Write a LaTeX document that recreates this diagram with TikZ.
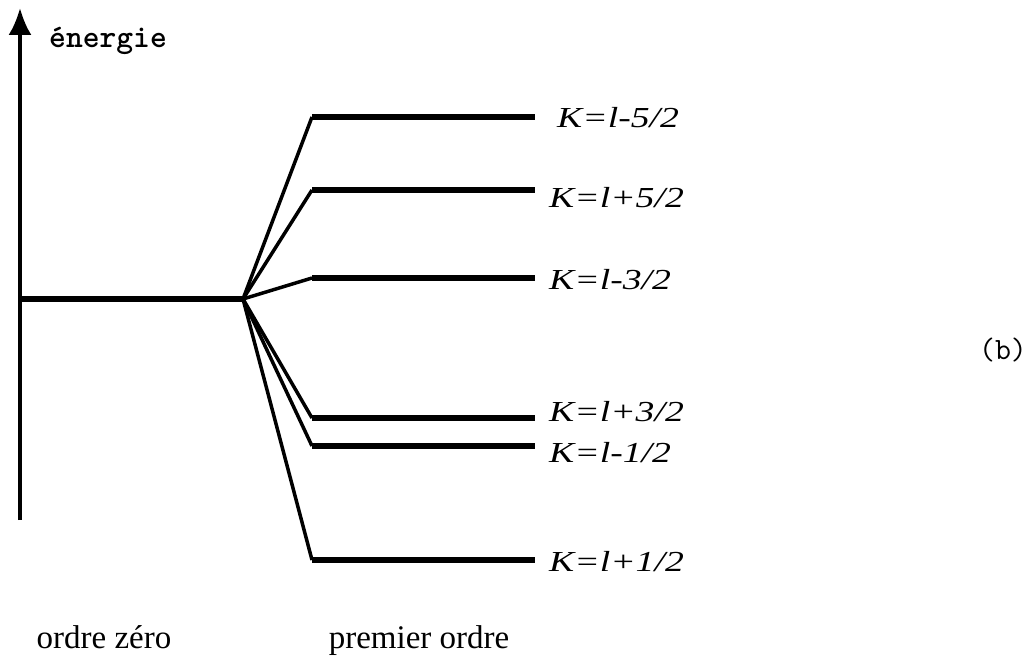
\documentclass[tikz,border=0pt]{standalone}
\usepackage{fontspec}
\setmainfont{Liberation Serif}
\usetikzlibrary{arrows.meta}

\tikzset{
  level/.style={line width=5.5pt},
  branch/.style={line width=3.5pt},
  klabel/.style={anchor=west,inner sep=0pt,font=\fontsize{29}{31}\selectfont\itshape},
  ordre/.style={anchor=base,inner sep=0pt,font=\fontsize{33}{35}\selectfont},
  tlabel/.style={inner sep=0pt,font=\fontsize{32}{34}\ttfamily\bfseries}
}
\newcommand{\klab}[1]{\scalebox{1.3}[1]{#1}}

\begin{document}
\begin{tikzpicture}[x=1pt,y=-1pt,>={Latex[length=27pt,width=23pt]}]
\useasboundingbox (0,0) rectangle (1035,666);
% axe des energies
\coordinate (axbot) at (20,520);
\coordinate (axtop) at (20,8);
\draw[line width=3.5pt,->] (axbot)--(axtop);
\node[tlabel,anchor=base west] (energie) at (49,48) {énergie};
% niveau d'ordre zero
\coordinate (zero) at (18,299);
\coordinate (split) at (243,299);
\draw[level] (zero)--(split);
% niveaux du premier ordre
\foreach \n/\y/\lx/\ly/\txt in {1/117/557/118/{K=l-5/2},2/190/549/198/{K=l+5/2},3/278/549/280/{K=l-3/2},
    4/418/549/412/{K=l+3/2},5/446/549/453/{K=l-1/2},6/560/549/562/{K=l+1/2}}{
  \coordinate (lvl\n a) at (312,\y);
  \coordinate (lvl\n b) at (535,\y);
  \draw[branch] (split)--(lvl\n a);
  \draw[level] (lvl\n a)--(lvl\n b);
  \node[klabel] (k\n) at (\lx,\ly) {\klab{\txt}};
}
\node[tlabel,anchor=center,font=\fontsize{31}{33}\ttfamily] (b) at (1003,350) {(b)};
\node[ordre] (ordre0) at (104,648) {ordre zéro};
\node[ordre] (ordre1) at (419,648) {premier ordre};
\end{tikzpicture}
\end{document}
